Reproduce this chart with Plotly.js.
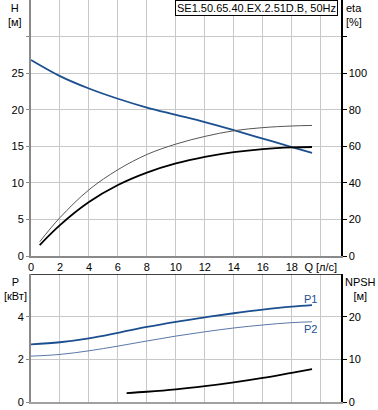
<!DOCTYPE html>
<html>
<head>
<meta charset="utf-8">
<script src="https://cdn.plot.ly/plotly-3.0.1.min.js"></script>
<style>
html,body{margin:0;padding:0;background:#fff;}
#chart{width:378px;height:410px;}
</style>
</head>
<body>
<div id="chart"></div>
<script>
// ---- data ----
var qH = [0, 2, 4, 6, 8, 10, 12, 14, 16, 18, 19.4];
var H = [26.8, 24.6, 22.9, 21.5, 20.3, 19.3, 18.3, 17.2, 16.05, 14.9, 14.1];

var qEta = [0.6, 2, 4, 6, 8, 10, 12, 14, 16, 18, 19.4];
var etaThin = [7.8, 21, 36.2, 47.2, 55.5, 61.2, 65.4, 68.5, 70.2, 71.1, 71.4];
var etaThick = [6, 16.9, 29.5, 38.8, 45.6, 50.6, 54.2, 56.8, 58.5, 59.4, 59.6];

var qP = [0, 2, 4, 6, 8, 10, 12, 14, 16, 18, 19.4];
var P1 = [2.70, 2.80, 2.98, 3.24, 3.52, 3.76, 3.97, 4.16, 4.33, 4.47, 4.54];
var P2 = [2.15, 2.23, 2.40, 2.62, 2.86, 3.09, 3.29, 3.47, 3.61, 3.72, 3.76];

var qN = [6.6, 8, 10, 12, 14, 16, 18, 19.4];
var NPSH = [2.1, 2.4, 2.95, 3.7, 4.6, 5.65, 6.85, 7.7];

var qTicks = [0, 2, 4, 6, 8, 10, 12, 14, 16, 18, 20];
var qTickText = ['0', '2', '4', '6', '8', '10', '12', '14', '16', '18', 'Q [л/с]'];
var hTicks = [0, 5, 10, 15, 20, 25, 30];
var hTickText = ['0', '5', '10', '15', '20', '25', ''];
var etaTicks = [0, 20, 40, 60, 80, 100, 120];
var etaTickText = ['0', '20', '40', '60', '80', '100', ''];
var pTicks = [0, 2, 4];
var npshTicks = [0, 10, 20];

var title = 'SE1.50.65.40.EX.2.51D.B, 50Hz';

// ---- chart ----
var blue = '#1b4f8f';
var font = {family: 'Liberation Sans, Arial, sans-serif', size: 11, color: '#000'};
var grid = '#c8c8c8';

var traces = [
  {x: qH, y: H, xaxis: 'x', yaxis: 'y', mode: 'lines', line: {color: blue, width: 1.8, shape: 'spline', smoothing: 1}},
  {x: qEta, y: etaThin, xaxis: 'x', yaxis: 'y2', mode: 'lines', line: {color: '#555', width: 1, shape: 'spline', smoothing: 1}},
  {x: qEta, y: etaThick, xaxis: 'x', yaxis: 'y2', mode: 'lines', line: {color: '#000', width: 1.8, shape: 'spline', smoothing: 1}},
  {x: qP, y: P1, xaxis: 'x2', yaxis: 'y3', mode: 'lines', line: {color: blue, width: 1.8, shape: 'spline', smoothing: 1}},
  {x: qP, y: P2, xaxis: 'x2', yaxis: 'y3', mode: 'lines', line: {color: '#5a78a8', width: 1, shape: 'spline', smoothing: 1}},
  {x: qN, y: NPSH, xaxis: 'x2', yaxis: 'y4', mode: 'lines', line: {color: '#000', width: 1.8, shape: 'spline', smoothing: 1}}
];

var topDom = [1 - 256 / 402, 1];
var botDom = [0, (402 - 274) / 402];

var layout = {
  width: 378, height: 410,
  margin: {l: 31, r: 37, t: 0, b: 8},
  paper_bgcolor: '#fff', plot_bgcolor: '#fff',
  showlegend: false,
  font: font,
  xaxis: {
    domain: [0, 1], anchor: 'y', range: [0, 21.4],
    tickvals: qTicks, ticktext: qTickText, tickfont: font,
    showgrid: true, gridcolor: grid, gridwidth: 1, zeroline: false,
    showline: true, linecolor: '#8a8a8a', linewidth: 2,
    ticks: '', fixedrange: true
  },
  yaxis: {
    domain: topDom, anchor: 'x', range: [0, 35],
    tickvals: hTicks, ticktext: hTickText, tickfont: font,
    showgrid: true, gridcolor: grid, zeroline: false,
    showline: true, linecolor: '#8a8a8a', linewidth: 2,
    ticks: 'outside', ticklen: 3, tickcolor: '#8a8a8a', tickwidth: 1
  },
  yaxis2: {
    overlaying: 'y', side: 'right', anchor: 'x', range: [0, 140],
    tickvals: etaTicks, ticktext: etaTickText, tickfont: font,
    showgrid: false, zeroline: false,
    showline: true, linecolor: '#000', linewidth: 1.5,
    ticks: 'outside', ticklen: 4, tickcolor: '#000', tickwidth: 1
  },
  xaxis2: {
    domain: [0, 1], anchor: 'y3', range: [0, 21.4],
    tickvals: qTicks, showticklabels: false,
    showgrid: true, gridcolor: grid, zeroline: false,
    showline: true, linecolor: '#a0a0a0', linewidth: 2, ticks: ''
  },
  yaxis3: {
    domain: botDom, anchor: 'x2', range: [0, 6],
    tickvals: pTicks, tickfont: font,
    showgrid: true, gridcolor: grid, zeroline: false,
    showline: true, linecolor: '#8a8a8a', linewidth: 2,
    ticks: 'outside', ticklen: 3, tickcolor: '#8a8a8a', tickwidth: 1
  },
  yaxis4: {
    overlaying: 'y3', side: 'right', anchor: 'x2', range: [0, 30],
    tickvals: npshTicks, tickfont: font,
    showgrid: false, zeroline: false,
    showline: true, linecolor: '#000', linewidth: 1.5,
    ticks: 'outside', ticklen: 4, tickcolor: '#000', tickwidth: 1
  },
  shapes: [
    {type: 'line', xref: 'x2 domain', yref: 'y3', x0: 0, x1: 1, y0: 6, y1: 6, line: {color: '#000', width: 1.5}}
  ],
  annotations: [
    {text: title, xref: 'paper', yref: 'paper', x: (338 - 31) / 310, y: 1, xanchor: 'right', yanchor: 'top',
     showarrow: false, font: font, bgcolor: '#fff', bordercolor: '#000', borderwidth: 1, borderpad: 1},
    {text: 'H<br>[м]', xref: 'paper', yref: 'paper', x: -16 / 310, y: 1, xanchor: 'center', yanchor: 'top',
     showarrow: false, font: font, align: 'center'},
    {text: 'eta<br>[%]', xref: 'paper', yref: 'paper', x: 1 + 3 / 310, y: 1, xanchor: 'left', yanchor: 'top',
     showarrow: false, font: font, align: 'left'},
    {text: 'P<br>[кВт]', xref: 'paper', yref: 'paper', x: -16 / 310, y: (410 - 8 - 274) / 402, xanchor: 'center', yanchor: 'top',
     showarrow: false, font: font, align: 'center'},
    {text: 'NPSH<br>[м]', xref: 'paper', yref: 'paper', x: 1 + 2 / 310, y: (410 - 8 - 274) / 402, xanchor: 'left', yanchor: 'top',
     showarrow: false, font: font, align: 'center'},
    {text: 'P1', xref: 'x2', yref: 'y3', x: 19.3, y: 4.82, showarrow: false, font: {family: font.family, size: 11, color: blue}},
    {text: 'P2', xref: 'x2', yref: 'y3', x: 19.3, y: 3.42, showarrow: false, font: {family: font.family, size: 11, color: blue}}
  ]
};

Plotly.newPlot('chart', traces, layout, {displayModeBar: false, staticPlot: true});
</script>
</body>
</html>
